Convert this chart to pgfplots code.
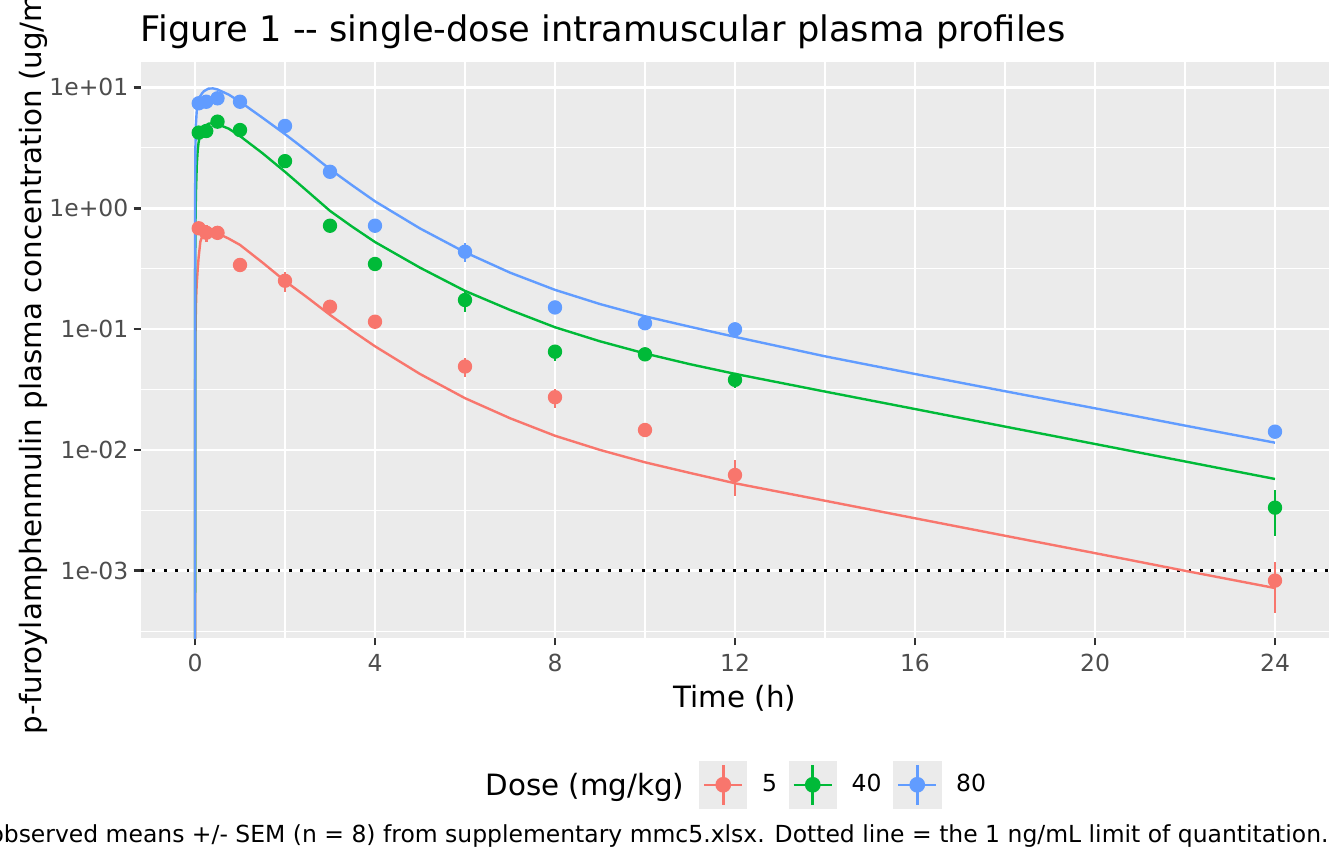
\documentclass[border=0pt]{standalone}
\usepackage{fontspec}
\setmainfont{DejaVu Sans}
\usepackage{pgfplots}
\pgfplotsset{compat=1.18}
\usepackage{pgfplotstable}
\definecolor{cR}{HTML}{F8766D}
\definecolor{cG}{HTML}{00BA38}
\definecolor{cB}{HTML}{619CFF}
\definecolor{panelbg}{HTML}{EBEBEB}
\definecolor{grayth}{HTML}{4D4D4D}
\definecolor{graytk}{HTML}{333333}

% observed means with SEM range (lo, hi)
\pgfplotstableread{
t y lo hi
0.083 0.682 0.64 0.72
0.25 0.627 0.529 0.726
0.5 0.625 0.59 0.66
1 0.339 0.32 0.355
2 0.251 0.204 0.295
3 0.153 0.145 0.161
4 0.115 0.109 0.121
6 0.0490 0.0404 0.0574
8 0.0273 0.0221 0.0318
10 0.01462 0.0138 0.0154
12 0.0062 0.00417 0.00826
24 0.00083 0.000451 0.00119
}\obsR
\pgfplotstableread{
t y lo hi
0.083 4.22 4.0 4.45
0.25 4.35 4.1 4.6
0.5 5.2 4.9 5.5
1 4.43 4.2 4.65
2 2.45 2.3 2.6
3 0.716 0.68 0.75
4 0.3455 0.32 0.37
6 0.174 0.139 0.204
8 0.065 0.0548 0.0725
10 0.0618 0.058 0.0655
12 0.038 0.0324 0.0426
24 0.00333 0.00195 0.00467
}\obsG
\pgfplotstableread{
t y lo hi
0.083 7.38 7.0 7.75
0.25 7.6 7.2 8.0
0.5 8.11 7.7 8.5
1 7.6 7.2 8.0
2 4.79 4.55 5.0
3 2.0 1.9 2.1
4 0.716 0.68 0.75
6 0.436 0.357 0.513
8 0.151 0.138 0.165
10 0.1117 0.104 0.119
12 0.0995 0.094 0.105
24 0.01416 0.0134 0.0149
}\obsB

% fitted model curves
\pgfplotstableread{
t c
0 0.000001
0.002 0.02
0.005 0.045
0.01 0.085
0.02 0.15
0.03 0.2
0.04 0.24
0.06 0.31
0.08 0.39
0.12 0.53
0.16 0.585
0.2 0.615
0.3 0.64
0.4 0.635
0.5 0.62
0.75 0.56
1 0.497
1.5 0.355
2 0.25
2.5 0.182
3 0.131
3.5 0.0965
4 0.072
5 0.0425
6 0.0268
7 0.0183
8 0.0131
9 0.0100
10 0.0079
11 0.00645
12 0.0053
14 0.0038
16 0.00272
18 0.00195
20 0.0014
22 0.001
24 0.00072
}\fitR
\pgfplotstableread{
t c
0 0.000001
0.002 0.15
0.005 0.38
0.01 0.72
0.02 1.3
0.04 2.3
0.06 3.0
0.08 3.5
0.12 4.1
0.16 4.45
0.2 4.7
0.3 5.0
0.4 5.05
0.5 4.95
0.75 4.55
1 3.95
1.5 2.85
2 2.0
2.5 1.38
3 0.95
3.5 0.70
4 0.525
5 0.322
6 0.207
7 0.144
8 0.1035
9 0.0792
10 0.0628
11 0.0512
12 0.0426
14 0.0304
16 0.0218
18 0.0156
20 0.0112
22 0.00803
24 0.00575
}\fitG
\pgfplotstableread{
t c
0 0.000001
0.002 0.8
0.005 1.9
0.01 3.3
0.02 4.9
0.04 6.5
0.08 7.9
0.12 8.5
0.16 8.95
0.2 9.3
0.3 9.75
0.4 9.8
0.5 9.6
0.75 8.7
1 7.6
1.5 5.6
2 4.1
2.5 2.95
3 2.1
3.5 1.54
4 1.14
5 0.68
6 0.432
7 0.293
8 0.211
9 0.161
10 0.1275
11 0.1045
12 0.0862
14 0.0595
16 0.0425
18 0.0306
20 0.0221
22 0.0159
24 0.01148
}\fitB

\pgfplotsset{
  keyimg/.style={legend image code/.code={
    \fill[panelbg] (0pt,-8.64pt) rectangle (17.28pt,8.64pt);
    \draw[#1, line width=0.9pt] (1.5pt,0pt) -- (15.78pt,0pt);
    \draw[#1, line width=1pt] (8.64pt,-7.4pt) -- (8.64pt,7.4pt);
    \fill[#1] (8.64pt,0pt) circle (2.49pt);
  }},
  obs/.style={only marks, mark=*, mark size=2.49pt, color=#1,
    mark options={draw=none, fill=#1},
    error bars/y dir=both, error bars/y explicit, error bars/error mark=none,
    error bars/error bar style={line width=1pt, color=#1}},
}

\begin{document}
\begin{tikzpicture}
\useasboundingbox (0,0) rectangle (504pt,324pt);
\begin{axis}[
  at={(52.875pt,84.75pt)}, anchor=south west,
  width=445.5pt, height=216pt, scale only axis,
  xmin=-1.2, xmax=25.2,
  ymode=log, ymin=2.78e-4, ymax=16.2,
  axis background/.style={fill=panelbg},
  axis line style={draw=none},
  xtick={0,4,8,12,16,20,24},
  xticklabels={0,4,8,12,16,20,24},
  minor xtick={2,6,10,14,18,22},
  ytick={0.001,0.01,0.1,1,10},
  yticklabels={1e-03,1e-02,1e-01,1e+00,1e+01},
  minor ytick={0.0003162,0.003162,0.03162,0.3162,3.162},
  grid=both,
  major grid style={draw=white, line width=1.07pt},
  minor grid style={draw=white, line width=0.53pt},
  tick align=outside,
  xtick pos=bottom, ytick pos=left,
  major tick length=2.75pt, minor tick length=0pt,
  major tick style={draw=graytk, line width=1.07pt},
  minor tick style={draw=none},
  xticklabel style={font=\fontsize{8.8}{10}\selectfont, text=grayth, inner sep=0pt, anchor=north},
  yticklabel style={font=\fontsize{8.8}{10}\selectfont, text=grayth, inner sep=0pt, anchor=east},
  xticklabel shift=3.25pt,
  yticklabel shift=1.8pt,
  /pgf/number format/assume math mode=true,
  legend style={at={(0.4697,-0.2548)}, anchor=west, draw=none, fill=none,
    inner sep=0pt, outer sep=0pt, column sep=0pt,
    cells={anchor=west, font=\fontsize{8.8}{10}\selectfont},
    /tikz/every odd column/.append style={column sep=3.5pt},
    /tikz/every even column/.append style={column sep=2.3pt}},
  legend columns=3,
]
\addplot[black, line width=1.07pt, dash pattern=on 1.07pt off 3.2pt, forget plot]
  coordinates {(-1.2,0.001) (25.2,0.001)};
\addplot[cR, line width=0.9pt, keyimg=cR] table[x=t,y=c]{\fitR};
\addlegendentry{5}
\addplot[cG, line width=0.9pt, keyimg=cG] table[x=t,y=c]{\fitG};
\addlegendentry{40}
\addplot[cB, line width=0.9pt, keyimg=cB] table[x=t,y=c]{\fitB};
\addlegendentry{80}
\addplot[forget plot, obs=cR] table[x=t, y=y,
  y error plus expr=\thisrow{hi}-\thisrow{y},
  y error minus expr=\thisrow{y}-\thisrow{lo}]{\obsR};
\addplot[forget plot, obs=cG] table[x=t, y=y,
  y error plus expr=\thisrow{hi}-\thisrow{y},
  y error minus expr=\thisrow{y}-\thisrow{lo}]{\obsG};
\addplot[forget plot, obs=cB] table[x=t, y=y,
  y error plus expr=\thisrow{hi}-\thisrow{y},
  y error minus expr=\thisrow{y}-\thisrow{lo}]{\obsB};
\end{axis}
\node[anchor=base west, inner sep=0pt, font=\fontsize{13.2}{16}\selectfont]
  at (52.6pt,308.25pt) {Figure 1 -{}- single-dose intramuscular plasma profiles};
\node[rotate=90, anchor=base, inner sep=0pt, font=\fontsize{11}{13}\selectfont]
  at (15.56pt,192.75pt) {p-furoylamphenmulin plasma concentration (ug/mL)};
\node[anchor=base, inner sep=0pt, font=\fontsize{11}{13}\selectfont]
  at (275.6pt,58.5pt) {Time (h)};
\node[anchor=base west, inner sep=0pt, font=\fontsize{11}{13}\selectfont]
  at (181.9pt,25.5pt) {Dose (mg/kg)};
\node[anchor=base east, inner sep=0pt, font=\fontsize{8.8}{10}\selectfont]
  at (498.4pt,7.875pt) {Points = observed means +/- SEM (n = 8) from supplementary mmc5.xlsx. Dotted line = the 1 ng/mL limit of quantitation.};
\end{tikzpicture}
\end{document}
